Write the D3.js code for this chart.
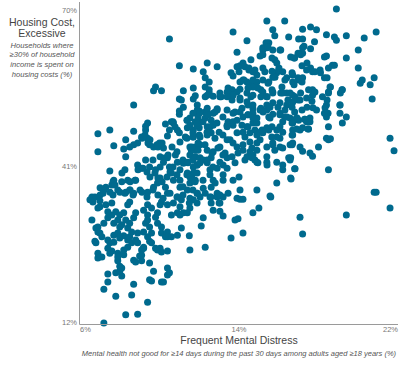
<!DOCTYPE html>
<html>
<head>
<meta charset="utf-8">
<script src="https://cdn.jsdelivr.net/npm/d3@7"></script>
<style>
  html, body { margin: 0; padding: 0; background: #fff; }
  svg { display: block; font-family: "Liberation Sans", Arial, Helvetica, sans-serif; }
</style>
</head>
<body>
<svg id="chart" width="410" height="366"></svg>
<script>
// ---- Data ----
// Frequent Mental Distress (%)
const distress = [
18.9,10.5,13.7,15.4,16.3,15.7,15.8,16.5,17.2,17.6,17.9,18.4,18.8,18.9,19.4,20.3,20.9,14.4,15.5,17.0,17.2,17.8,13.9,15.2,15.4,15.7,16.1,17.2,17.1,17.6,18.3,18.4,19.4,20.0,15.06,15.2,16.6,16.8,17.1,17.2,14.6,15.8,15.9,14.2,14.05,13.9,11.0,11.7,12.4,12.9,12.2,12.3,12.5,9.8,9.7,10.1,11.2,11.7,12.3,12.5,12.7,13.04,13.45,13.65,13.7,14.0,14.3,14.5,14.7,14.9,15.2,15.3,14.05,14.25,14.4,14.6,14.9,15.2,15.5,15.7,15.9,16.0,16.2,16.4,16.7,16.7,17.0,17.2,17.4,17.6,17.7,18.1,18.3,18.5,18.7,18.8,20.0,20.2,20.1,20.6,20.8,19.2,19.1,18.6,18.5,17.7,17.5,17.1,16.4,16.1,15.7,15.4,15.1,14.7,14.6,13.9,13.6,20.7,11.0,11.7,
15.2,14.5,14.8,13.6,14.2,14.7,13.4,14.05,14.45,14.95,15.2,12.5,13.1,13.65,14.05,15.1,11.1,11.9,12.0,12.4,12.3,12.9,13.4,13.8,14.15,14.45,14.7,15.1,15.4,
21.6,21.8,18.5,20.8,20.9,8.7,6.9,7.5,6.9,7.7,7.5,8.3,8.2,8.3,8.7,8.7,8.5,8.9,9.1,9.3,9.4,9.3,9.4,9.5,9.7,10.0,10.2,10.3,10.6,10.7,10.5,10.4,10.9,11.0,11.0,11.2,11.8,12.3,12.4,11.9,12.0,12.4,12.7,12.9,11.4,11.8,12.0,12.3,12.6,12.7,12.4,12.0,11.7,11.4,11.0,11.3,11.7,12.0,12.4,12.6,13.0,13.4,13.45,13.7,13.9,14.2,14.45,14.7,14.9,14.7,14.4,14.2,14.55,14.8,15.06,15.4,15.5,15.7,16.06,16.3,16.57,16.8,17.0,16.7,16.2,16.06,15.9,16.2,16.7,17.07,17.4,17.57,17.9,18.4,18.5,19.2,19.4,19.08,19.08,18.4,18.2,18.5,17.7,17.4,17.07,16.7,16.4,16.06,15.7,15.4,15.06,14.7,14.4,14.05,13.7,13.4,13.04,14.4,14.7,15.7,16.2,16.7,18.4,18.5,18.0,17.57,17.7,17.07,17.2,16.57,16.2,15.8,15.7,15.9,15.5,15.06,14.9,14.65,14.8,14.9,15.4,15.9,16.2,16.2,16.5,16.6,15.9,14.9,15.56,14.3,14.4,14.2,13.9,13.7,13.4,13.04,13.3,13.4,13.2,12.9,13.7,14.05,13.2,12.9,12.6,12.7,12.54,12.4,12.6,12.7,12.4,12.04,11.8,11.6,11.53,11.8,12.04,12.2,11.9,11.7,11.4,11.2,11.03,11.4,11.7,11.8,11.53,11.4,11.03,10.7,10.6,10.5,10.9,10.8,10.4,10.2,10.03,9.8,9.5,9.3,9.1,8.9,8.8,8.4,8.1,7.7,7.6,7.3,7.2,7.01,6.6,6.75,7.9,8.3,8.5,8.7,9.02,9.4,9.7,9.9,10.03,10.3,10.4,10.9,11.9,12.2,12.3,12.54,13.9,
15.4,15.7,16.06,14.0,13.2,13.2,12.8,13.65,13.8,13.95,14.55,14.7,14.9,15.2,15.65,16.06,16.7,16.6,15.4,18.6,18.3,17.5,17.2,16.9,17.3,16.9,16.7,16.8,
21.6,19.4,17.07,17.2,15.6,15.0,14.7,14.2,13.6,13.95,13.8,14.05,14.2,13.45,13.2,13.04,12.7,12.6,12.9,13.0,12.2,12.1,12.3,11.53,11.5,11.53,11.7,
7.2,8.3,8.9,9.4,7.8,8.6,7.2,7.4,8.7,9.5,9.6,7.4,7.8,8.1,8.0,8.0,7.9,8.1,10.4,10.5,10.4,9.7,10.1,8.7,8.8,9.1,9.5,9.0,9.5,9.2,9.1,9.9,10.1,10.4,10.03,8.2,7.9,7.9,7.5,7.6,7.1,6.9,6.9,6.8,6.75,7.4,7.5,7.7,8.2,8.4,8.6,8.4,8.2,7.9,7.7,7.0,6.8,6.9,7.2,6.6,7.4,7.6,7.8,8.0,8.2,7.9,8.1,8.4,8.6,8.5,8.8,8.9,8.5,8.3,8.7,8.4,8.5,7.6,7.0,6.65,7.0,9.2,9.4,9.6,9.4,9.8,9.9,10.1,10.4,10.6,10.4,9.4,9.3,9.6,9.4,9.6,9.2,10.1,10.4,10.7,11.03,10.9,11.2,11.1,10.6,11.5,
11.1,10.9,11.03,11.4,10.03,9.9,10.1,10.3,10.2,6.9,7.3,7.4,7.1,7.4,8.0,9.8,9.2,9.1,7.7,6.9,8.0,8.8,9.5,8.9,
10.68,10.78,11.38,11.53,11.94,11.89,9.12,9.27,9.52,9.42,9.87,9.92,10.13,9.67,10.03,10.28,10.43,10.63,10.88,11.03,11.38,11.68,11.53,11.79,11.94,11.18,11.43,11.68,11.89,7.66,7.76,8.11,8.26,8.52,8.77,8.92,9.17,9.37,9.52,9.77,9.92,10.13,10.38,10.53,10.68,10.88,11.03,11.18,11.38,11.63,11.79,7.01,7.16,6.65,6.50,7.51,7.66,8.01,8.26,8.52,8.67,9.12,9.37,9.67,9.92,10.18,10.53,10.88,11.18,11.53,11.89,
11.68,12.04,12.44,12.79,13.19,13.70,14.05,14.45,14.70,15.21,15.56,16.06,16.41,16.72,11.53,11.89,12.19,12.54,12.89,13.40,13.70,14.15,14.45,14.90,15.16,15.66,11.68,12.04,12.39,12.79,13.19,13.55,13.90,14.30,14.55,11.63,11.94,12.29,12.64,12.94,13.19,14.20,14.65,14.90,11.68,12.04,12.39,12.69,13.04,13.40,14.95,15.41,11.53,11.89,12.19,12.54,11.68,12.04,11.89,12.59,13.04,13.04,
18.08,18.43,19.18,18.58,17.82,17.67,18.43,19.08,18.33,17.72,17.42,15.36,16.06,15.46,15.66,16.01,16.77,16.97,17.27,17.17,17.42,17.82,16.67,16.97,17.17,16.77,16.31,16.16,15.81,15.66,15.46,15.66,15.41,16.57,16.82,16.97,16.46,15.96,16.67,16.31,15.56,17.17,18.48,18.33,17.47,17.57,17.32,16.92,16.67,16.67,16.67,16.57,16.82,16.62
];
// Housing Cost, Excessive (%)
const housingCost = [
69.8,64.3,65.6,67.6,67.6,66.0,64.9,64.7,66.1,66.5,66.0,65.1,64.7,64.1,64.9,64.5,65.6,64.0,63.6,64.3,64.3,63.8,61.9,62.3,62.7,62.3,62.3,62.7,61.7,62.5,61.0,61.2,60.8,62.3,61.2,61.4,61.0,60.8,61.4,61.7,60.5,60.5,59.9,59.9,59.4,59.2,59.4,58.8,59.9,59.2,58.3,57.2,56.4,55.5,54.8,54.8,54.8,55.3,55.5,54.4,53.8,53.7,55.3,55.0,57.5,58.3,59.2,58.6,58.3,57.7,59.0,58.3,56.4,56.8,56.4,56.2,56.4,56.8,56.4,57.3,58.1,58.6,58.3,57.2,57.7,56.4,56.8,57.2,58.6,59.0,58.3,58.1,57.2,59.0,59.5,59.5,59.0,56.8,56.2,55.9,57.2,55.0,54.4,55.5,54.6,55.0,55.0,54.4,54.4,54.4,54.6,53.7,55.0,55.5,53.7,54.6,54.0,53.3,53.3,53.3,
62.7,59.0,58.6,58.1,56.8,56.8,54.6,55.1,55.3,55.3,54.6,55.0,53.7,53.1,53.5,53.7,53.1,51.3,50.7,51.6,50.9,51.5,51.3,50.9,51.6,52.2,51.5,51.6,51.3,
46.1,43.8,40.3,36.2,36.2,52.2,46.9,47.6,43.6,44.7,40.1,45.8,44.1,42.7,47.4,44.9,44.5,45.2,46.3,47.6,48.9,48.3,46.1,44.9,44.5,45.2,44.3,48.7,49.1,48.9,47.6,46.5,47.6,50.5,51.1,51.8,53.9,53.7,54.0,52.2,51.1,50.9,50.7,51.3,49.4,49.1,49.1,49.8,49.4,48.5,48.2,48.0,47.6,48.0,47.1,46.3,46.3,46.7,46.7,47.1,47.2,48.2,49.1,48.5,49.4,50.0,50.4,50.7,49.8,48.9,48.2,47.2,47.1,47.6,47.2,48.0,50.0,50.5,50.4,50.0,49.8,50.9,49.4,48.9,49.1,48.2,47.6,47.2,47.6,47.6,49.1,49.8,51.3,50.0,48.2,48.9,50.0,50.7,52.2,52.2,53.7,54.4,54.0,53.5,53.1,52.7,52.2,52.6,52.6,52.2,51.3,52.2,52.8,53.1,54.0,53.7,54.4,54.4,54.0,54.4,54.4,54.0,46.1,45.8,44.5,43.4,42.8,44.5,43.7,44.9,44.3,43.9,44.9,46.3,47.6,45.8,45.2,44.3,42.1,41.7,41.7,41.7,41.2,40.3,42.5,38.8,37.9,36.6,35.5,42.1,42.7,43.9,44.5,45.2,45.8,44.5,43.4,42.5,41.2,40.6,38.4,36.6,35.3,36.0,37.1,38.4,40.3,41.6,42.5,43.6,43.9,44.9,44.5,43.9,43.0,42.7,42.5,42.1,41.2,40.8,41.7,41.5,40.3,39.7,39.7,38.4,37.9,36.6,37.1,38.4,39.7,40.8,41.7,43.0,42.5,41.7,40.8,40.3,40.8,42.1,40.6,41.2,38.4,38.4,38.1,38.4,37.5,37.1,36.6,35.7,35.3,35.3,36.6,36.2,36.6,36.0,36.6,36.2,37.1,37.9,38.8,37.1,36.0,35.3,36.0,36.9,36.0,35.3,35.1,
44.5,45.2,44.5,39.0,39.4,38.4,37.9,42.7,41.6,43.4,43.6,43.0,46.7,47.1,46.3,46.1,45.2,42.5,42.7,46.0,50.7,47.8,48.0,47.8,49.6,49.8,46.7,40.5,
33.3,32.0,31.6,28.5,35.3,33.3,32.4,28.7,27.8,31.3,31.1,34.9,34.9,36.0,31.8,32.7,32.9,34.2,35.3,34.2,31.5,30.0,26.1,25.6,28.2,33.3,34.8,
12.2,13.7,13.8,16.0,17.1,17.3,18.4,19.7,19.3,20.1,19.9,21.2,21.4,20.8,21.7,22.6,23.6,22.3,21.0,21.4,22.3,21.7,19.7,23.7,23.4,23.6,23.2,24.5,27.2,26.1,25.6,25.6,25.2,25.4,25.9,24.7,25.0,24.3,25.0,25.4,24.3,25.0,24.1,26.9,27.2,25.9,26.9,27.0,25.6,26.1,26.9,27.4,28.2,28.7,28.3,28.7,29.6,29.8,30.5,31.1,31.5,32.0,32.6,32.0,32.4,31.1,30.2,29.6,28.9,28.0,27.4,26.9,30.5,31.1,31.5,33.9,34.4,34.2,33.5,34.4,34.6,32.9,33.9,33.3,32.0,31.6,30.5,29.8,28.9,28.0,28.0,31.1,30.5,28.7,28.0,26.9,28.9,34.4,33.9,34.2,33.5,32.4,32.4,34.8,32.0,34.2,
29.6,28.3,32.0,32.4,33.9,32.4,28.7,28.0,19.7,33.3,33.9,32.6,28.0,27.4,27.8,25.9,25.9,24.6,30.5,28.9,29.8,32.4,29.8,28.7,
49.1,48.2,49.4,49.8,50.0,48.5,46.1,46.7,45.8,45.2,44.9,44.5,45.2,42.1,42.7,42.5,43.0,44.5,43.6,45.4,46.1,46.3,44.5,43.9,45.2,42.1,41.6,42.1,41.2,38.1,37.5,39.7,40.3,38.1,38.4,40.3,40.6,39.9,39.0,39.7,38.8,38.1,39.0,39.9,40.8,39.4,38.4,37.2,39.4,38.8,38.1,37.0,36.0,35.1,34.8,36.2,35.7,36.2,36.0,36.6,35.7,36.2,35.3,36.6,35.7,35.1,36.0,35.3,35.7,35.1,36.0,
50.7,50.9,50.4,50.9,50.0,50.7,50.9,50.4,49.8,50.9,49.8,50.7,50.0,49.4,48.5,48.9,49.1,48.2,48.9,48.5,49.1,48.5,48.2,48.9,47.6,48.2,47.1,46.3,47.2,46.1,46.7,45.8,47.1,46.3,45.4,44.5,43.9,44.9,43.4,44.3,43.0,44.9,42.5,43.9,42.1,41.6,42.1,40.8,41.7,40.6,41.6,41.2,39.0,39.7,38.4,39.4,36.6,35.3,34.2,35.3,35.7,34.2,
58.6,57.2,55.0,55.5,54.6,52.9,53.1,52.2,51.7,51.7,51.8,63.6,62.3,62.8,60.8,59.0,60.8,61.7,63.0,59.4,59.9,58.3,58.1,57.2,56.4,55.9,56.8,55.5,57.3,58.4,56.2,55.0,53.7,54.4,53.7,53.1,53.1,51.8,51.8,51.3,51.8,51.3,50.7,50.7,47.8,49.1,49.6,49.8,48.9,46.7,44.9,42.1,40.5,38.6
];
// Axis tick labels
const xTicks = [6, 14, 22];
const yTicks = [12, 41, 70];

if (distress.length !== housingCost.length) {
  throw new Error("length mismatch " + distress.length + " vs " + housingCost.length);
}

const svg = d3.select("#chart");
const W = 410, H = 366;
const m = { left: 80, right: 398, top: 8, bottom: 324 };

const x = d3.scaleLinear().domain([6, 22]).range([m.left, m.right]);
const y = d3.scaleLinear().domain([12, 70]).range([m.bottom, m.top]);

svg.append("rect").attr("width", W).attr("height", H).attr("fill", "#fff");

// points
const pts = d3.zip(distress, housingCost);
svg.append("g").selectAll("circle").data(pts).join("circle")
  .attr("cx", d => x(d[0]))
  .attr("cy", d => y(d[1]))
  .attr("r", 3.5)
  .attr("fill", "#006a8e");

// axes lines
svg.append("line").attr("x1", m.left - 0.5).attr("x2", m.left - 0.5)
  .attr("y1", 2).attr("y2", m.bottom + 0.5)
  .attr("stroke", "#9a9a9a").attr("stroke-width", 1);
svg.append("line").attr("x1", m.left - 0.5).attr("x2", m.right)
  .attr("y1", m.bottom + 0.5).attr("y2", m.bottom + 0.5)
  .attr("stroke", "#9a9a9a").attr("stroke-width", 1);

// y tick labels
svg.append("g").selectAll("text").data(yTicks).join("text")
  .attr("x", m.left - 3)
  .attr("y", (d, i) => i === 0 ? y(d) + 0.5 : (i === yTicks.length - 1 ? y(d) + 4.5 : y(d) + 3))
  .attr("text-anchor", "end")
  .attr("font-size", 7.5)
  .attr("fill", "#777")
  .text(d => d + "%");

// x tick labels
svg.append("g").selectAll("text").data(xTicks).join("text")
  .attr("x", d => x(d))
  .attr("y", m.bottom + 8)
  .attr("text-anchor", (d, i) => i === 0 ? "start" : (i === xTicks.length - 1 ? "end" : "middle"))
  .attr("font-size", 7.5)
  .attr("fill", "#777")
  .text(d => d + "%");

// x title
svg.append("text").attr("x", (m.left + m.right) / 2).attr("y", m.bottom + 20)
  .attr("text-anchor", "middle").attr("font-size", 10.5).attr("fill", "#444")
  .text("Frequent Mental Distress");
svg.append("text").attr("x", (m.left + m.right) / 2).attr("y", m.bottom + 31.5)
  .attr("text-anchor", "middle").attr("font-size", 7.5).attr("font-style", "italic").attr("fill", "#555")
  .text("Mental health not good for \u226514 days during the past 30 days among adults aged \u226518 years (%)");

// y title
const yt = svg.append("g").attr("text-anchor", "middle");
["Housing Cost,", "Excessive"].forEach((t, i) => {
  yt.append("text").attr("x", 42).attr("y", 25.5 + i * 11.5)
    .attr("font-size", 10.5).attr("fill", "#444").text(t);
});
["Households where", "\u226530% of household", "income is spent on", "housing costs (%)"].forEach((t, i) => {
  yt.append("text").attr("x", 42).attr("y", 47.5 + i * 9.7)
    .attr("font-size", 7.6).attr("font-style", "italic").attr("fill", "#555").text(t);
});
</script>
</body>
</html>
